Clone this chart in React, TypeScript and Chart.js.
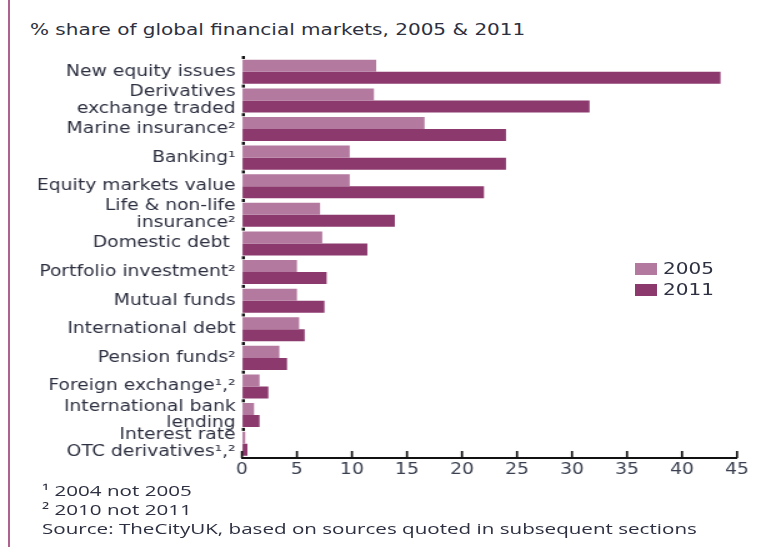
import React, { useEffect, useRef } from "react";
import { Chart, registerables } from "chart.js";

Chart.register(...registerables);

const categories: (string | string[])[] = [
  "New equity issues",
  ["Derivatives", "exchange traded"],
  "Marine insurance²",
  "Banking¹",
  "Equity markets value",
  ["Life & non-life", "insurance²"],
  "Domestic debt ",
  "Portfolio investment²",
  "Mutual funds",
  "International debt",
  "Pension funds²",
  "Foreign exchange¹,²",
  ["International bank", "lending"],
  ["Interest rate", "OTC derivatives¹,²"],
];
const values2005 = [12.2, 12.0, 16.6, 9.8, 9.8, 7.1, 7.3, 5.0, 5.0, 5.2, 3.4, 1.6, 1.1, 0.3];
const values2011 = [43.5, 31.6, 24.0, 24.0, 22.0, 13.9, 11.4, 7.7, 7.5, 5.7, 4.1, 2.4, 1.6, 0.5];
const seriesLabels = ["2005", "2011"];
const seriesColors = ["#b3799f", "#8c3a6e"];
const xTicks = [0, 5, 10, 15, 20, 25, 30, 35, 40, 45];
const title = "% share of global financial markets, 2005 & 2011";
const footnotes = ["¹ 2004 not 2005", "² 2010 not 2011", "Source: TheCityUK, based on sources quoted in subsequent sections"];

const FONT = "'DejaVu Sans', sans-serif";
const TEXT = "#2d3040";
const STRETCH = 1.25; // reference is horizontally stretched
const CSS_W = 761;
const CSS_H = 452;
const INT_W = Math.round(CSS_W / STRETCH);

const tickPlugin = {
  id: "innerTicks",
  afterDraw(chart: any) {
    const { ctx, chartArea, scales } = chart;
    const x = scales.x;
    const y = scales.y;
    ctx.save();
    ctx.strokeStyle = "#111";
    ctx.lineWidth = 1.7;
    xTicks.forEach((v) => {
      const px = x.getPixelForValue(v);
      ctx.beginPath();
      ctx.moveTo(px, chartArea.bottom);
      ctx.lineTo(px, chartArea.bottom - 7);
      ctx.stroke();
    });
    ctx.fillStyle = "#111";
    const n = categories.length;
    const step = y.getPixelForValue(1) - y.getPixelForValue(0);
    for (let i = 0; i < n; i++) {
      const py = y.getPixelForValue(i) - step / 2;
      ctx.fillRect(chartArea.left, py - 1.5, 2.4, 3);
    }
    ctx.restore();
  },
};

export default function App() {
  const ref = useRef<HTMLCanvasElement>(null);
  useEffect(() => {
    const chart = new Chart(ref.current!, {
      type: "bar",
      data: {
        labels: categories,
        datasets: [
          { label: seriesLabels[0], data: values2005, backgroundColor: seriesColors[0], barPercentage: 1, categoryPercentage: 0.84 },
          { label: seriesLabels[1], data: values2011, backgroundColor: seriesColors[1], barPercentage: 1, categoryPercentage: 0.84 },
        ],
      },
      options: {
        indexAxis: "y",
        animation: false,
        responsive: false,
        maintainAspectRatio: false,
        devicePixelRatio: 1,
        layout: { padding: { top: 8, right: 24 / STRETCH, left: 0, bottom: 0 } },
        plugins: { legend: { display: false }, tooltip: { enabled: false } },
        scales: {
          x: {
            min: 0,
            max: 45,
            afterBuildTicks: (s: any) => {
              s.ticks = xTicks.map((v) => ({ value: v }));
            },
            afterFit: (s: any) => {
              s.height = 30;
            },
            grid: { display: true, drawOnChartArea: false, drawTicks: false },
            border: { display: true, color: "#111", width: 2 },
            ticks: { font: { family: FONT, size: 15 }, color: "#3a4050", padding: 3 },
          },
          y: {
            afterFit: (s: any) => {
              s.width = 242 / STRETCH;
            },
            grid: { display: false, drawTicks: false },
            border: { display: false },
            ticks: { autoSkip: false, font: { family: FONT, size: 15, lineHeight: 1.1 }, color: TEXT, padding: 5 },
          },
        },
      },
      plugins: [tickPlugin],
    });
    return () => chart.destroy();
  }, []);

  return (
    <div style={{ position: "fixed", left: 0, top: 0, width: 761, height: 547, background: "#fff", overflow: "hidden" }}>
      <div style={{ position: "absolute", left: 8, top: 0, width: 2, height: 547, background: "#b0628f" }} />
      <div style={{ position: "absolute", left: 30, top: 20, fontFamily: FONT, fontSize: 16, color: TEXT, whiteSpace: "nowrap", transform: `scaleX(${STRETCH})`, transformOrigin: "left top" }}>{title}</div>
      <canvas ref={ref} width={INT_W} height={CSS_H} style={{ position: "absolute", left: 0, top: 36, width: CSS_W, height: CSS_H }} />
      {seriesLabels.map((l, i) => (
        <div key={l} style={{ position: "absolute", left: 635, top: 259 + i * 21, display: "flex", alignItems: "center", fontFamily: FONT, fontSize: 16, color: TEXT }}>
          <span style={{ display: "inline-block", width: 22, height: 12, background: seriesColors[i], marginRight: 6 }} />
          <span style={{ display: "inline-block", transform: `scaleX(${STRETCH})`, transformOrigin: "left center" }}>{l}</span>
        </div>
      ))}
      <div style={{ position: "absolute", left: 42, top: 481, fontFamily: "'Open Sans', sans-serif", fontSize: 14.5, lineHeight: "19px", color: TEXT, transform: "scaleX(1.42)", transformOrigin: "left top" }}>
        {footnotes.map((f) => (
          <div key={f} style={{ whiteSpace: "nowrap" }}>{f}</div>
        ))}
      </div>
    </div>
  );
}
